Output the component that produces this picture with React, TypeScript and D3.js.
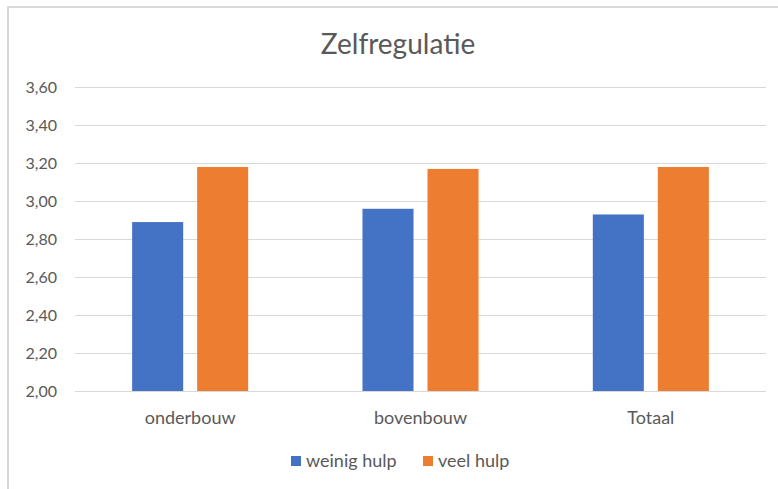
import { useRef, useEffect } from "react";
import * as d3 from "d3";

const categories = ["onderbouw", "bovenbouw", "Totaal"];
const seriesNames = ["weinig hulp", "veel hulp"];
const weinigHulp = [2.89, 2.96, 2.93];
const veelHulp = [3.18, 3.17, 3.18];
const yTicks = [2.0, 2.2, 2.4, 2.6, 2.8, 3.0, 3.2, 3.4, 3.6];
const colors = ["#4472c4", "#ed7d31"];

const W = 778;
const H = 489;
const FONT = "Lato, 'Open Sans', sans-serif";

const App = () => {
  const ref = useRef<HTMLDivElement>(null);

  useEffect(() => {
    if (!ref.current) return;
    const left = 75;
    const right = 766;
    const top = 87.3;
    const bottom = 391;

    const svg = d3
      .select(ref.current)
      .html("")
      .append("svg")
      .attr("width", W)
      .attr("height", H)
      .style("position", "absolute")
      .style("left", "0px")
      .style("top", "0px");

    svg.append("rect").attr("width", W).attr("height", H).attr("fill", "#fff");

    // chart border (runs off right/bottom edge)
    svg
      .append("rect")
      .attr("x", 8)
      .attr("y", 7)
      .attr("width", W + 10)
      .attr("height", H + 10)
      .attr("fill", "none")
      .attr("stroke", "#d9d9d9")
      .attr("stroke-width", 2);

    svg
      .append("text")
      .attr("x", 398)
      .attr("y", 54)
      .attr("text-anchor", "middle")
      .attr("font-family", FONT)
      .attr("font-size", 28)
      .attr("fill", "#595959")
      .text("Zelfregulatie");

    const y = d3.scaleLinear().domain([2.0, 3.6]).range([bottom, top]);
    const x0 = d3.scaleBand().domain(categories).range([left, right]).padding(0);
    const x1 = d3
      .scaleBand()
      .domain(seriesNames)
      .range([0, x0.bandwidth()])
      .paddingInner(0.215)
      .paddingOuter(0.879);

    // gridlines
    svg
      .append("g")
      .selectAll("line")
      .data(yTicks)
      .enter()
      .append("line")
      .attr("x1", left)
      .attr("x2", right)
      .attr("y1", (d) => Math.round(y(d)) + 0.5)
      .attr("y2", (d) => Math.round(y(d)) + 0.5)
      .attr("stroke", "#d9d9d9")
      .attr("stroke-width", 1);

    // y tick labels
    svg
      .append("g")
      .selectAll("text")
      .data(yTicks)
      .enter()
      .append("text")
      .attr("x", 57)
      .attr("y", (d) => y(d))
      .attr("dy", "0.35em")
      .attr("text-anchor", "end")
      .attr("font-family", FONT)
      .attr("font-size", 16)
      .attr("fill", "#595959")
      .text((d) => d3.format(".2f")(d).replace(".", ","));

    const series = [weinigHulp, veelHulp];
    series.forEach((vals, si) => {
      svg
        .append("g")
        .selectAll("rect")
        .data(vals)
        .enter()
        .append("rect")
        .attr("x", (_, i) => (x0(categories[i]) as number) + (x1(seriesNames[si]) as number))
        .attr("y", (d) => y(d))
        .attr("width", x1.bandwidth())
        .attr("height", (d) => bottom - y(d))
        .attr("fill", colors[si]);
    });

    // baseline
    svg
      .append("line")
      .attr("x1", left)
      .attr("x2", right)
      .attr("y1", bottom + 0.5)
      .attr("y2", bottom + 0.5)
      .attr("stroke", "#d9d9d9");

    // category labels
    svg
      .append("g")
      .selectAll("text")
      .data(categories)
      .enter()
      .append("text")
      .attr("x", (d) => (x0(d) as number) + x0.bandwidth() / 2)
      .attr("y", 424)
      .attr("text-anchor", "middle")
      .attr("font-family", FONT)
      .attr("font-size", 18)
      .attr("fill", "#595959")
      .text((d) => d);

    // legend
    const legendX = [291, 423];
    seriesNames.forEach((name, i) => {
      const g = svg.append("g").attr("transform", `translate(${legendX[i]},456)`);
      g.append("rect").attr("width", 10).attr("height", 10).attr("fill", colors[i]);
      g.append("text")
        .attr("x", 15)
        .attr("y", 5)
        .attr("dy", "0.35em")
        .attr("font-family", FONT)
        .attr("font-size", 18)
        .attr("fill", "#595959")
        .text(name);
    });
  }, []);

  return <div ref={ref} />;
};

export default App;
